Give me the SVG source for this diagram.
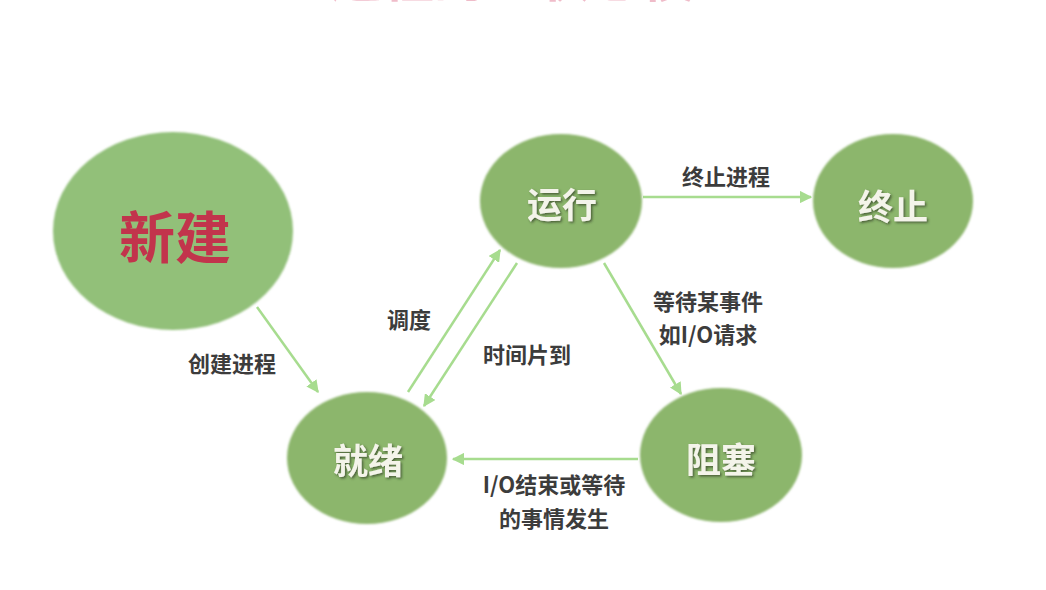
<svg xmlns="http://www.w3.org/2000/svg" width="1046" height="590" viewBox="0 0 1046 590">
<style>
.node{fill:#8cb66c;filter:url(#soft)}
.ntxt{font-family:"Noto Sans CJK SC","Noto Sans",sans-serif;font-size:35px;font-weight:700;fill:#f4f4ea;text-anchor:middle;dominant-baseline:central;filter:url(#shadow)}
.lbl{font-family:"Noto Sans CJK SC","Noto Sans",sans-serif;font-size:22px;font-weight:700;fill:#3c3c3c;text-anchor:middle;dominant-baseline:central}
.edge{stroke:#a7dc8f;stroke-width:2.5;fill:none;marker-end:url(#arr)}
</style>
<defs>
<filter id="soft" x="-10%" y="-10%" width="120%" height="120%"><feGaussianBlur stdDeviation="1.2"/></filter>
<filter id="shadow" x="-20%" y="-20%" width="140%" height="140%"><feDropShadow dx="1.5" dy="1.5" stdDeviation="1" flood-color="#2e3d22" flood-opacity="0.7"/></filter>
<marker id="arr" viewBox="0 0 10 10" refX="9" refY="5" markerWidth="5" markerHeight="5" orient="auto" markerUnits="strokeWidth"><path d="M0,0 L10,5 L0,10 z" fill="#a7dc8f"/></marker>
</defs>
<rect width="1046" height="590" fill="#ffffff"/>
<text x="538" y="-3" font-family="Noto Sans CJK SC,sans-serif" font-size="52" font-weight="700" fill="#e690a6" text-anchor="middle" opacity="0.6">进程的五状态模型</text>
<g id="connectors">
<line class="edge" x1="257" y1="307" x2="318" y2="392"/>
<line class="edge" x1="408" y1="392" x2="500" y2="250"/>
<line class="edge" x1="517" y1="263" x2="424" y2="406"/>
<line class="edge" x1="643" y1="197" x2="811" y2="197"/>
<line class="edge" x1="604" y1="263" x2="681" y2="394"/>
<line class="edge" x1="638" y1="459" x2="453" y2="459"/>
<text class="lbl" x="232" y="362">创建进程</text>
<text class="lbl" x="409" y="318">调度</text>
<text class="lbl" x="527" y="353">时间片到</text>
<text class="lbl" x="726" y="175">终止进程</text>
<text class="lbl" x="708" y="300">等待某事件</text>
<text class="lbl" x="708" y="333">如I/O请求</text>
<text class="lbl" x="554" y="483">I/O结束或等待</text>
<text class="lbl" x="554" y="517">的事情发生</text>
</g>
<g id="node-new">
<ellipse class="node" cx="173" cy="231" rx="120" ry="99" style="fill:#92c079"/>
<text x="175" y="233" font-family="Noto Sans CJK SC,sans-serif" font-size="56" font-weight="700" fill="#c2344c" text-anchor="middle" dominant-baseline="central">新建</text>
</g>
<g id="node-run">
<ellipse class="node" cx="561" cy="201" rx="81" ry="67"/>
<text class="ntxt" x="562" y="202">运行</text>
</g>
<g id="node-exit">
<ellipse class="node" cx="893" cy="201" rx="80" ry="67"/>
<text class="ntxt" x="893" y="204">终止</text>
</g>
<g id="node-ready">
<ellipse class="node" cx="367" cy="458" rx="80" ry="66"/>
<text class="ntxt" x="368" y="458">就绪</text>
</g>
<g id="node-blocked">
<ellipse class="node" cx="721" cy="455" rx="81" ry="67"/>
<text class="ntxt" x="721" y="457">阻塞</text>
</g>
</svg>
